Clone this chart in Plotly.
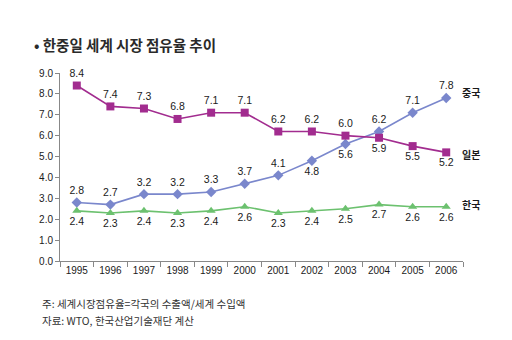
import plotly.graph_objects as go

years = ["1995", "1996", "1997", "1998", "1999", "2000", "2001", "2002", "2003", "2004", "2005", "2006"]
china = [2.8, 2.7, 3.2, 3.2, 3.3, 3.7, 4.1, 4.8, 5.6, 6.2, 7.1, 7.8]
japan = [8.4, 7.4, 7.3, 6.8, 7.1, 7.1, 6.2, 6.2, 6.0, 5.9, 5.5, 5.2]
korea = [2.4, 2.3, 2.4, 2.3, 2.4, 2.6, 2.3, 2.4, 2.5, 2.7, 2.6, 2.6]
names = ["중국", "일본", "한국"]
title = "• 한중일 세계 시장 점유율 추이"
notes = ["주: 세계시장점유율=각국의 수출액/세계 수입액", "자료: WTO, 한국산업기술재단 계산"]
yticks = [0, 1, 2, 3, 4, 5, 6, 7, 8, 9]

china_pos = ["top center"] * 7 + ["bottom center"] * 2 + ["top center"] * 3
japan_pos = ["top center"] * 9 + ["bottom center"] * 3
korea_pos = ["bottom center"] * 12

FONT = "Liberation Sans, Arial, Noto Sans CJK KR, sans-serif"
KFONT = "Noto Sans CJK KR, sans-serif"

fig = go.Figure()
series = [
    (china, "#7a87cc", "diamond", 8, china_pos),
    (japan, "#a22c8f", "square", 8, japan_pos),
    (korea, "#6cc16f", "triangle-up", 8, korea_pos),
]
for (vals, col, sym, sz, pos), nm in zip(series, names):
    fig.add_trace(go.Scatter(
        x=years, y=vals, mode="lines+markers+text", name=nm,
        line=dict(color=col, width=1.6),
        marker=dict(symbol=sym, size=sz, color=col),
        text=[f"{v:.1f}" for v in vals], textposition=pos,
        textfont=dict(size=10.5, color="#1a1a1a", family=FONT),
        cliponaxis=False,
    ))

for nm, yp in zip(names, [0.894, 0.564, 0.303]):
    fig.add_annotation(xref="paper", yref="paper", x=0.993, y=yp, text=nm, showarrow=False,
                       xanchor="left", yanchor="middle",
                       font=dict(size=10, color="#1a1a1a", family=KFONT, weight=600))

fig.add_annotation(xref="paper", yref="paper", x=-0.07, y=1.15, text=title,
                   showarrow=False, xanchor="left", yanchor="middle",
                   font=dict(size=14.5, color="#2a2a2a", family=KFONT, weight=600))
for i, t in enumerate(notes):
    fig.add_annotation(xref="paper", yref="paper", x=-0.05, y=-0.225 - 0.09 * i, text=t,
                       showarrow=False, xanchor="left", yanchor="middle",
                       font=dict(size=10.5, color="#333333", family=KFONT))

fig.update_layout(
    width=512, height=340, showlegend=False,
    margin=dict(l=60, r=49, t=73, b=79),
    plot_bgcolor="white", paper_bgcolor="white",
    font=dict(family=FONT, color="#1a1a1a"),
)
fig.update_xaxes(type="category", showgrid=False, showline=True, linecolor="#888888",
                 ticks="outside", tickson="boundaries", ticklen=5, tickcolor="#888888",
                 tickfont=dict(size=10, color="#1a1a1a"), range=[-0.5, 11.5])
fig.update_yaxes(range=[0, 9], tickvals=yticks, ticktext=[f"{v:.1f}" for v in yticks],
                 showgrid=False, showline=True, linecolor="#888888", zeroline=False,
                 ticks="outside", ticklen=4, tickcolor="#888888",
                 tickfont=dict(size=10, color="#1a1a1a"))

fig.write_html("out.html")
